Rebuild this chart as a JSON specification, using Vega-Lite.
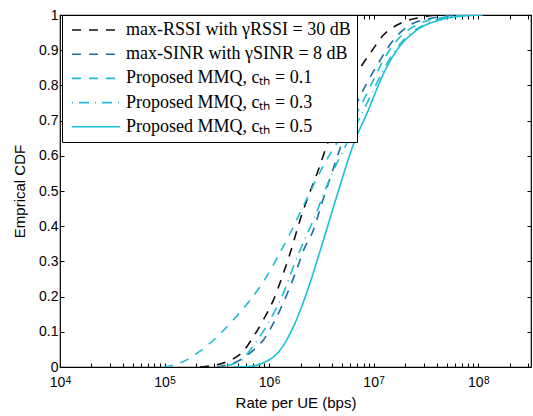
{
  "$schema": "https://vega.github.io/schema/vega-lite/v6.json",
  "width": 471,
  "height": 352,
  "autosize": {"type": "none"},
  "padding": {"left": 60, "top": 15, "right": 2, "bottom": 49},
  "background": "white",
  "config": {
    "view": {"stroke": "black", "strokeWidth": 1.2},
    "axis": {"domain": false, "grid": false, "tickColor": "black", "labelColor": "black", "titleColor": "black", "labelFont": "Liberation Sans", "titleFont": "Liberation Sans", "labelFontSize": 14, "titleFontSize": 15, "titleFontWeight": "normal", "tickWidth": 1}
  },
  "data": {"values": [
    {"s": "max-RSSI with γRSSI = 30 dB", "rate": 2.186e5, "cdf": 0},
    {"s": "max-RSSI with γRSSI = 30 dB", "rate": 2.725e5, "cdf": 0.003},
    {"s": "max-RSSI with γRSSI = 30 dB", "rate": 3.938e5, "cdf": 0.015},
    {"s": "max-RSSI with γRSSI = 30 dB", "rate": 5.678e5, "cdf": 0.045},
    {"s": "max-RSSI with γRSSI = 30 dB", "rate": 7.076e5, "cdf": 0.086},
    {"s": "max-RSSI with γRSSI = 30 dB", "rate": 8.820e5, "cdf": 0.134},
    {"s": "max-RSSI with γRSSI = 30 dB", "rate": 1.099e6, "cdf": 0.19},
    {"s": "max-RSSI with γRSSI = 30 dB", "rate": 1.370e6, "cdf": 0.266},
    {"s": "max-RSSI with γRSSI = 30 dB", "rate": 1.589e6, "cdf": 0.323},
    {"s": "max-RSSI with γRSSI = 30 dB", "rate": 1.980e6, "cdf": 0.418},
    {"s": "max-RSSI with γRSSI = 30 dB", "rate": 2.295e6, "cdf": 0.474},
    {"s": "max-RSSI with γRSSI = 30 dB", "rate": 2.654e6, "cdf": 0.522},
    {"s": "max-RSSI with γRSSI = 30 dB", "rate": 3.076e6, "cdf": 0.574},
    {"s": "max-RSSI with γRSSI = 30 dB", "rate": 3.435e6, "cdf": 0.616},
    {"s": "max-RSSI with γRSSI = 30 dB", "rate": 7.428e6, "cdf": 0.849},
    {"s": "max-RSSI with γRSSI = 30 dB", "rate": 9.259e6, "cdf": 0.891},
    {"s": "max-RSSI with γRSSI = 30 dB", "rate": 1.241e7, "cdf": 0.943},
    {"s": "max-RSSI with γRSSI = 30 dB", "rate": 1.794e7, "cdf": 0.976},
    {"s": "max-RSSI with γRSSI = 30 dB", "rate": 2.786e7, "cdf": 0.993},
    {"s": "max-RSSI with γRSSI = 30 dB", "rate": 4.053e7, "cdf": 1.0},

    {"s": "max-SINR with γSINR = 8 dB", "rate": 3.159e5, "cdf": 0},
    {"s": "max-SINR with γSINR = 8 dB", "rate": 5.279e5, "cdf": 0.02},
    {"s": "max-SINR with γSINR = 8 dB", "rate": 7.076e5, "cdf": 0.048},
    {"s": "max-SINR with γSINR = 8 dB", "rate": 8.820e5, "cdf": 0.077},
    {"s": "max-SINR with γSINR = 8 dB", "rate": 1.185e6, "cdf": 0.143},
    {"s": "max-SINR with γSINR = 8 dB", "rate": 1.589e6, "cdf": 0.228},
    {"s": "max-SINR with γSINR = 8 dB", "rate": 1.980e6, "cdf": 0.304},
    {"s": "max-SINR with γSINR = 8 dB", "rate": 2.138e6, "cdf": 0.332},
    {"s": "max-SINR with γSINR = 8 dB", "rate": 2.654e6, "cdf": 0.389},
    {"s": "max-SINR with γSINR = 8 dB", "rate": 3.193e6, "cdf": 0.465},
    {"s": "max-SINR with γSINR = 8 dB", "rate": 3.694e6, "cdf": 0.522},
    {"s": "max-SINR with γSINR = 8 dB", "rate": 4.605e6, "cdf": 0.607},
    {"s": "max-SINR with γSINR = 8 dB", "rate": 6.653e6, "cdf": 0.739},
    {"s": "max-SINR with γSINR = 8 dB", "rate": 8.607e6, "cdf": 0.806},
    {"s": "max-SINR with γSINR = 8 dB", "rate": 1.154e7, "cdf": 0.872},
    {"s": "max-SINR with γSINR = 8 dB", "rate": 1.547e7, "cdf": 0.929},
    {"s": "max-SINR with γSINR = 8 dB", "rate": 2.236e7, "cdf": 0.972},
    {"s": "max-SINR with γSINR = 8 dB", "rate": 3.473e7, "cdf": 0.99},
    {"s": "max-SINR with γSINR = 8 dB", "rate": 6.256e7, "cdf": 1.0},

    {"s": "Proposed MMQ, cₜₕ = 0.1", "rate": 9.89e4, "cdf": 0},
    {"s": "Proposed MMQ, cₜₕ = 0.1", "rate": 1.503e5, "cdf": 0.015},
    {"s": "Proposed MMQ, cₜₕ = 0.1", "rate": 2.186e5, "cdf": 0.045},
    {"s": "Proposed MMQ, cₜₕ = 0.1", "rate": 3.159e5, "cdf": 0.085},
    {"s": "Proposed MMQ, cₜₕ = 0.1", "rate": 4.554e5, "cdf": 0.134},
    {"s": "Proposed MMQ, cₜₕ = 0.1", "rate": 6.579e5, "cdf": 0.19},
    {"s": "Proposed MMQ, cₜₕ = 0.1", "rate": 9.155e5, "cdf": 0.25},
    {"s": "Proposed MMQ, cₜₕ = 0.1", "rate": 1.2195e6, "cdf": 0.315},
    {"s": "Proposed MMQ, cₜₕ = 0.1", "rate": 1.589e6, "cdf": 0.38},
    {"s": "Proposed MMQ, cₜₕ = 0.1", "rate": 2.069e6, "cdf": 0.45},
    {"s": "Proposed MMQ, cₜₕ = 0.1", "rate": 2.637e6, "cdf": 0.515},
    {"s": "Proposed MMQ, cₜₕ = 0.1", "rate": 3.215e6, "cdf": 0.565},
    {"s": "Proposed MMQ, cₜₕ = 0.1", "rate": 3.920e6, "cdf": 0.61},
    {"s": "Proposed MMQ, cₜₕ = 0.1", "rate": 4.887e6, "cdf": 0.655},
    {"s": "Proposed MMQ, cₜₕ = 0.1", "rate": 7.153e6, "cdf": 0.73},
    {"s": "Proposed MMQ, cₜₕ = 0.1", "rate": 9.259e6, "cdf": 0.796},
    {"s": "Proposed MMQ, cₜₕ = 0.1", "rate": 1.241e7, "cdf": 0.872},
    {"s": "Proposed MMQ, cₜₕ = 0.1", "rate": 1.794e7, "cdf": 0.938},
    {"s": "Proposed MMQ, cₜₕ = 0.1", "rate": 2.786e7, "cdf": 0.976},
    {"s": "Proposed MMQ, cₜₕ = 0.1", "rate": 5.018e7, "cdf": 0.995},
    {"s": "Proposed MMQ, cₜₕ = 0.1", "rate": 7.797e7, "cdf": 1.0},

    {"s": "Proposed MMQ, cₜₕ = 0.3", "rate": 3.397e5, "cdf": 0},
    {"s": "Proposed MMQ, cₜₕ = 0.3", "rate": 5.481e5, "cdf": 0.02},
    {"s": "Proposed MMQ, cₜₕ = 0.3", "rate": 6.579e5, "cdf": 0.048},
    {"s": "Proposed MMQ, cₜₕ = 0.3", "rate": 1.022e6, "cdf": 0.134},
    {"s": "Proposed MMQ, cₜₕ = 0.3", "rate": 1.370e6, "cdf": 0.21},
    {"s": "Proposed MMQ, cₜₕ = 0.3", "rate": 1.708e6, "cdf": 0.285},
    {"s": "Proposed MMQ, cₜₕ = 0.3", "rate": 1.980e6, "cdf": 0.332},
    {"s": "Proposed MMQ, cₜₕ = 0.3", "rate": 2.654e6, "cdf": 0.418},
    {"s": "Proposed MMQ, cₜₕ = 0.3", "rate": 4.007e6, "cdf": 0.55},
    {"s": "Proposed MMQ, cₜₕ = 0.3", "rate": 5.337e6, "cdf": 0.626},
    {"s": "Proposed MMQ, cₜₕ = 0.3", "rate": 6.908e6, "cdf": 0.692},
    {"s": "Proposed MMQ, cₜₕ = 0.3", "rate": 9.259e6, "cdf": 0.768},
    {"s": "Proposed MMQ, cₜₕ = 0.3", "rate": 1.338e7, "cdf": 0.862},
    {"s": "Proposed MMQ, cₜₕ = 0.3", "rate": 1.929e7, "cdf": 0.929},
    {"s": "Proposed MMQ, cₜₕ = 0.3", "rate": 3.229e7, "cdf": 0.976},
    {"s": "Proposed MMQ, cₜₕ = 0.3", "rate": 6.256e7, "cdf": 0.997},
    {"s": "Proposed MMQ, cₜₕ = 0.3", "rate": 8.762e7, "cdf": 1.0},

    {"s": "Proposed MMQ, cₜₕ = 0.5", "rate": 4.524e5, "cdf": 0},
    {"s": "Proposed MMQ, cₜₕ = 0.5", "rate": 6.579e5, "cdf": 0.002},
    {"s": "Proposed MMQ, cₜₕ = 0.5", "rate": 8.820e5, "cdf": 0.012},
    {"s": "Proposed MMQ, cₜₕ = 0.5", "rate": 1.275e6, "cdf": 0.048},
    {"s": "Proposed MMQ, cₜₕ = 0.5", "rate": 1.589e6, "cdf": 0.095},
    {"s": "Proposed MMQ, cₜₕ = 0.5", "rate": 1.980e6, "cdf": 0.16},
    {"s": "Proposed MMQ, cₜₕ = 0.5", "rate": 2.469e6, "cdf": 0.24},
    {"s": "Proposed MMQ, cₜₕ = 0.5", "rate": 3.076e6, "cdf": 0.33},
    {"s": "Proposed MMQ, cₜₕ = 0.5", "rate": 4.281e6, "cdf": 0.47},
    {"s": "Proposed MMQ, cₜₕ = 0.5", "rate": 6.653e6, "cdf": 0.645},
    {"s": "Proposed MMQ, cₜₕ = 0.5", "rate": 8.607e6, "cdf": 0.72},
    {"s": "Proposed MMQ, cₜₕ = 0.5", "rate": 1.250e7, "cdf": 0.835},
    {"s": "Proposed MMQ, cₜₕ = 0.5", "rate": 1.667e7, "cdf": 0.9},
    {"s": "Proposed MMQ, cₜₕ = 0.5", "rate": 2.591e7, "cdf": 0.957},
    {"s": "Proposed MMQ, cₜₕ = 0.5", "rate": 4.329e7, "cdf": 0.986},
    {"s": "Proposed MMQ, cₜₕ = 0.5", "rate": 7.797e7, "cdf": 0.998},
    {"s": "Proposed MMQ, cₜₕ = 0.5", "rate": 1.116e8, "cdf": 1.0}
  ]},
  "resolve": {"axis": {"x": "independent", "y": "independent"}},
  "layer": [
    {
      "mark": {"type": "line", "strokeWidth": 1.6, "clip": true, "interpolate": "monotone"},
      "encoding": {
        "x": {"field": "rate", "type": "quantitative",
          "scale": {"type": "log", "domain": [10000, 320000000], "nice": false},
          "axis": {"orient": "bottom", "title": "Rate per UE (bps)", "tickSize": -4, "labelPadding": 12, "titlePadding": 6, "labelOverlap": false, "labelFlush": false, "labelOffset": -3,
            "values": [10000,20000,30000,40000,50000,60000,70000,80000,90000,100000,200000,300000,400000,500000,600000,700000,800000,900000,1000000,2000000,3000000,4000000,5000000,6000000,7000000,8000000,9000000,10000000,20000000,30000000,40000000,50000000,60000000,70000000,80000000,90000000,100000000,200000000,300000000],
            "labelExpr": "(datum.value == 10000 || datum.value == 100000 || datum.value == 1000000 || datum.value == 10000000 || datum.value == 100000000) ? '10' : ''"}},
        "y": {"field": "cdf", "type": "quantitative",
          "scale": {"domain": [0, 1], "nice": false},
          "axis": {"orient": "left", "title": "Emprical CDF", "tickSize": -4, "labelPadding": 6, "titlePadding": 11,
            "values": [0,0.1,0.2,0.3,0.4,0.5,0.6,0.7,0.8,0.9,1], "format": ".1~f"}},
        "color": {"field": "s", "type": "nominal",
          "scale": {"domain": ["max-RSSI with γRSSI = 30 dB", "max-SINR with γSINR = 8 dB", "Proposed MMQ, cₜₕ = 0.1", "Proposed MMQ, cₜₕ = 0.3", "Proposed MMQ, cₜₕ = 0.5"],
            "range": ["#111111", "#1b6e9e", "#1fbcd3", "#1fbcd3", "#17c2d6"]},
          "legend": {"title": null, "orient": "none", "legendX": 2, "legendY": 0, "fillColor": "white", "strokeColor": "black", "padding": 5.5, "symbolOffset": 3.5, "clipHeight": 19, "symbolType": "stroke", "symbolSize": 2304, "symbolStrokeWidth": 1.6, "labelFont": "Liberation Serif", "labelFontSize": 18, "labelColor": "black", "labelLimit": 400, "labelOffset": 5, "rowPadding": 5.2}},
        "strokeDash": {"field": "s", "type": "nominal",
          "scale": {"domain": ["max-RSSI with γRSSI = 30 dB", "max-SINR with γSINR = 8 dB", "Proposed MMQ, cₜₕ = 0.1", "Proposed MMQ, cₜₕ = 0.3", "Proposed MMQ, cₜₕ = 0.5"],
            "range": [[9, 8], [9, 8], [9, 8], [1, 6, 10, 6], [1, 0]]},
          "legend": {"title": null, "orient": "none", "legendX": 2, "legendY": 0, "fillColor": "white", "strokeColor": "black", "padding": 5.5, "symbolOffset": 3.5, "clipHeight": 19, "symbolType": "stroke", "symbolSize": 2304, "symbolStrokeWidth": 1.6, "labelFont": "Liberation Serif", "labelFontSize": 18, "labelColor": "black", "labelLimit": 400, "labelOffset": 5, "rowPadding": 5.2}}
      }
    },
    {
      "mark": {"type": "line", "opacity": 0},
      "encoding": {
        "x": {"field": "rate", "type": "quantitative",
          "axis": {"orient": "top", "title": null, "labels": false, "tickSize": -4,
            "values": [10000,20000,30000,40000,50000,60000,70000,80000,90000,100000,200000,300000,400000,500000,600000,700000,800000,900000,1000000,2000000,3000000,4000000,5000000,6000000,7000000,8000000,9000000,10000000,20000000,30000000,40000000,50000000,60000000,70000000,80000000,90000000,100000000,200000000,300000000]}},
        "y": {"field": "cdf", "type": "quantitative",
          "axis": {"orient": "right", "title": null, "labels": false, "tickSize": -4,
            "values": [0,0.1,0.2,0.3,0.4,0.5,0.6,0.7,0.8,0.9,1]}},
        "detail": {"field": "s", "type": "nominal"}
      }
    },
    {
      "mark": {"type": "line", "opacity": 0},
      "encoding": {
        "x": {"field": "rate", "type": "quantitative",
          "axis": {"orient": "bottom", "title": null, "ticks": false, "labelPadding": 8, "labelOffset": 8, "labelFontSize": 10, "labelOverlap": false, "labelFlush": false,
            "values": [10000, 100000, 1000000, 10000000, 100000000],
            "labelExpr": "datum.value == 10000 ? '4' : datum.value == 100000 ? '5' : datum.value == 1000000 ? '6' : datum.value == 10000000 ? '7' : '8'"}},
        "y": {"field": "cdf", "type": "quantitative", "axis": null},
        "detail": {"field": "s", "type": "nominal"}
      }
    }
  ]
}
